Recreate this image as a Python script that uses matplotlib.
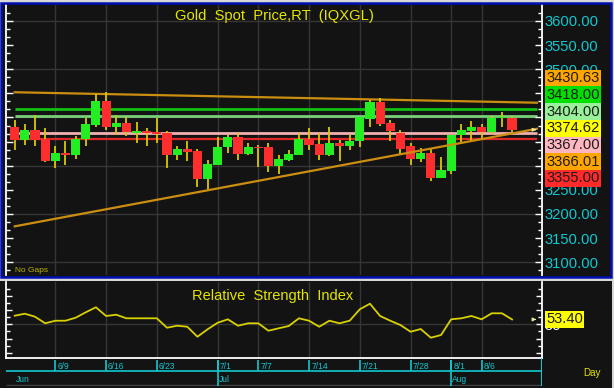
import matplotlib
matplotlib.use('Agg')
import matplotlib.pyplot as plt
from matplotlib.patches import Rectangle
from matplotlib.ticker import MultipleLocator, FixedLocator, FixedFormatter, NullFormatter
from matplotlib import font_manager

# ---------------- data ----------------
opens = [3381.3, 3353.8, 3374.5, 3355.9, 3310.4, 3327.0, 3321.4, 3355.9, 3384.9, 3434.5,
         3381.3, 3388.4, 3368.3, 3371.8, 3367.5, 3367.7, 3322.8, 3334.5, 3329.7, 3272.5,
         3302.0, 3338.0, 3359.4, 3324.9, 3339.4, 3339.4, 3300.0, 3312.5, 3322.8, 3355.9,
         3344.9, 3321.4, 3347.0, 3340.0, 3350.3, 3397.3, 3431.8, 3388.4, 3367.7, 3340.0,
         3314.5, 3326.3, 3274.6, 3289.7, 3364.2, 3372.4, 3381.3, 3369.8, 3398.0, 3398.7]
highs = [3395.2, 3386.9, 3405.5, 3378.0, 3340.0, 3351.8, 3362.0, 3398.7, 3448.3, 3452.5,
         3405.5, 3402.0, 3389.6, 3378.0, 3398.7, 3372.4, 3340.0, 3351.8, 3335.0, 3312.5,
         3359.4, 3362.8, 3367.7, 3347.0, 3343.5, 3347.0, 3321.4, 3333.1, 3367.7, 3378.0,
         3367.7, 3379.3, 3353.8, 3362.8, 3402.0, 3436.6, 3440.0, 3395.0, 3374.5, 3347.0,
         3336.6, 3335.2, 3317.3, 3364.2, 3386.3, 3391.7, 3386.9, 3404.0, 3411.0, 3404.0]
lows = [3333.1, 3343.5, 3340.0, 3306.9, 3295.0, 3302.0, 3314.5, 3340.0, 3379.3, 3374.5,
        3364.0, 3362.0, 3347.0, 3340.0, 3347.0, 3295.0, 3312.5, 3310.4, 3255.0, 3250.4,
        3302.0, 3326.3, 3312.5, 3321.4, 3296.5, 3287.0, 3282.9, 3309.0, 3322.8, 3333.0,
        3312.5, 3319.3, 3310.4, 3333.0, 3338.0, 3381.3, 3383.0, 3351.8, 3322.8, 3302.0,
        3307.7, 3267.6, 3274.6, 3282.9, 3347.0, 3351.8, 3355.9, 3365.6, 3379.3, 3369.8]
closes = [3352.4, 3374.5, 3353.8, 3310.4, 3326.3, 3322.8, 3355.3, 3387.0, 3434.5, 3381.3,
          3388.4, 3369.8, 3371.8, 3368.3, 3366.8, 3322.8, 3335.2, 3328.4, 3272.5, 3304.0,
          3338.7, 3359.4, 3324.9, 3338.7, 3336.7, 3300.0, 3314.5, 3324.9, 3355.3, 3342.0,
          3321.4, 3347.0, 3340.0, 3351.8, 3400.0, 3431.8, 3386.9, 3371.0, 3335.2, 3314.5,
          3327.0, 3274.6, 3291.8, 3364.2, 3374.5, 3381.3, 3369.8, 3398.7, 3399.5, 3374.62]
rsi = [56.0, 57.4, 55.3, 50.7, 52.5, 52.5, 54.6, 58.4, 61.9, 55.8,
       56.7, 54.2, 54.2, 54.2, 54.2, 47.6, 49.0, 48.3, 41.3, 46.5,
       51.1, 53.5, 49.0, 50.7, 50.7, 45.5, 47.2, 48.8, 54.2, 52.5,
       48.3, 52.5, 50.7, 52.5, 60.5, 64.4, 55.8, 52.5, 49.5, 44.8,
       46.7, 40.6, 42.5, 53.5, 54.2, 55.8, 53.5, 57.7, 57.7, 53.4]
rsi_last = 53.40

date_idx = [4, 9, 14, 20, 24, 29, 34, 39, 43, 46]
date_lbl = ["6/9", "6/16", "6/23", "7/1", "7/7", "7/14", "7/21", "7/28", "8/1", "8/6"]
month_idx = [0, 20, 43]
month_lbl = ["Jun", "Jul", "Aug"]

# trend lines: (x0, y0, x1, y1)
down_trend = (0.0, 3452.3, 51.45, 3430.6)
up_trend = (0.0, 3174.4, 51.45, 3376.6)
# horizontal levels
levels = [3418.00, 3404.00, 3367.00, 3355.00]
level_colors = ['#12c012', '#78d078', '#f2b0b0', '#e02828']
level_lw = [2.0, 2.0, 2.0, 1.6]

# right-side value labels
tag_vals = ["3430.63", "3418.00", "3404.00", "3374.62", "3367.00", "3366.01", "3355.00"]
tag_cols = ['#ffa500', '#00e000', '#98f098', '#ffff00', '#ffb6c1', '#ffa500', '#ff2a2a']
last_close = 3374.62

yticks_price = [3100, 3150, 3200, 3250, 3300, 3350, 3400, 3450, 3500, 3550, 3600]
# labels hidden completely behind the value tags are left blank
ytick_text = ["3100.00", "3150.00", "3200.00", "3250.00", "", "", "", "", "3500.00", "3550.00", "3600.00"]

# ---------------- fonts ----------------
names = {f.name for f in font_manager.fontManager.ttflist}
if 'Liberation Sans Narrow' in names:
    NARROW, K = 'Liberation Sans Narrow', 1.0
else:
    NARROW, K = 'Liberation Sans', 0.82
plt.rcParams['font.family'] = [NARROW, 'DejaVu Sans']

W, H = 614, 388
fig = plt.figure(figsize=(W / 100, H / 100), dpi=100)
fig.patch.set_facecolor('#d8d8d8')

def fx(px):
    return px / W

def fy(py):
    return 1 - py / H

BG = '#131313'
GRID = '#363636'
CYAN = '#10c8d0'
YEL = '#e6e600'
WICK = '#d8c800'
GREEN = '#22ee22'
RED = '#ff2e2e'
ORANGE = '#cc8e10'

# panel backgrounds
fig.add_artist(Rectangle((fx(1.5), fy(276.5)), fx(609), 273.5 / H, transform=fig.transFigure,
                         facecolor=BG, edgecolor='none', zorder=-2))
fig.add_artist(Rectangle((fx(1.5), fy(276.5)), fx(609), 273.5 / H, transform=fig.transFigure,
                         facecolor='none', edgecolor='#0010b0', lw=1.8, zorder=10))
fig.add_artist(Rectangle((0, 0), fx(612), (388 - 281) / H, transform=fig.transFigure,
                         facecolor=BG, edgecolor='none', zorder=-2))

# ---------------- price panel ----------------
ax = fig.add_axes([fx(6), fy(274.5), fx(536), (274.5 - 5) / H])
ax.set_facecolor(BG)
ax.set_xlim(-0.86, 51.95)
ax.set_ylim(3074.6, 3633.1)

for s in ['top', 'bottom']:
    ax.spines[s].set_visible(False)
for s in ['left', 'right']:
    ax.spines[s].set_color('white')
    ax.spines[s].set_linewidth(1.3)

for x in date_idx:
    ax.axvline(x, color=GRID, lw=1.0, zorder=0.5)
for y in range(3100, 3601, 100):
    ax.axhline(y, color=GRID, lw=1.0, zorder=0.5)

ax.xaxis.set_major_locator(FixedLocator([]))
ax.tick_params(axis='x', length=0, labelbottom=False)
ax.yaxis.set_major_locator(FixedLocator(yticks_price))
ax.yaxis.set_major_formatter(FixedFormatter(ytick_text))
ax.yaxis.set_minor_locator(MultipleLocator(50 / 3))
ax.tick_params(axis='y', which='both', left=True, right=True, labelleft=False, labelright=True,
               direction='in', color='white', labelcolor=CYAN, labelsize=13 * K, pad=2)
ax.tick_params(axis='y', which='major', length=5, width=1)
ax.tick_params(axis='y', which='minor', length=3, width=1)

# level lines and trend lines
for lv, c, lw in zip(levels, level_colors, level_lw):
    ax.hlines(lv, 0.0, 51.45, color=c, lw=lw, zorder=1.5)
ax.plot([down_trend[0], down_trend[2]], [down_trend[1], down_trend[3]], color=ORANGE, lw=1.6, zorder=1.6)
ax.plot([up_trend[0], up_trend[2]], [up_trend[1], up_trend[3]], color=ORANGE, lw=1.6, zorder=4)

# candles
for i, (o, h, l, c) in enumerate(zip(opens, highs, lows, closes)):
    ax.vlines(i, l, h, color=WICK, lw=1.3, zorder=2)
    col = GREEN if c >= o else RED
    hgt = max(abs(c - o), 2.5)
    ax.bar(i, hgt, bottom=min(o, c), width=0.9, color=col, edgecolor='none', zorder=3)

ax.annotate('', xy=(51.65, last_close), xytext=(50.95, last_close),
            arrowprops=dict(arrowstyle='-|>', color='#f0f0a0', lw=0.8, mutation_scale=5), zorder=6)

fig.text(fx(274), fy(20), "Gold  Spot  Price,RT  (IQXGL)", ha='center', va='baseline',
         color=YEL, fontsize=13 * K)
fig.text(fx(15), fy(272), "No Gaps", ha='left', va='baseline', color='#c0b400',
         fontsize=6, family='Liberation Sans')

# stacked value tags centred on the last close
y_last = ax.transData.transform((0, last_close))[1]
box_h = 16.7
for k, (txt, col) in enumerate(zip(tag_vals, tag_cols)):
    yc = y_last + (3 - k) * box_h + 1.5
    fig.add_artist(Rectangle((fx(545), (yc - box_h / 2) / H), fx(56), box_h / H,
                             transform=fig.transFigure, facecolor=col, edgecolor='none', zorder=5))
    fig.text(fx(573), yc / H, txt, ha='center', va='center', color='#1c1c1c',
             fontsize=13 * K, zorder=6)

# ---------------- RSI panel ----------------
ax2 = fig.add_axes([fx(6), fy(358), fx(536), (358 - 282) / H])
ax2.set_facecolor(BG)
ax2.set_xlim(-0.86, 51.95)
ax2.set_ylim(26.43, 79.58)
ax2.spines['top'].set_visible(False)
for s in ['left', 'right', 'bottom']:
    ax2.spines[s].set_color('white')
    ax2.spines[s].set_linewidth(1.3)
for x in date_idx:
    ax2.axvline(x, color=GRID, lw=1.0, zorder=0.5)
ax2.axhline(50, color=GRID, lw=1.0, zorder=0.5)
ax2.plot(range(len(rsi)), rsi, color='#d8d000', lw=1.3, zorder=3)
ax2.xaxis.set_major_locator(FixedLocator([]))
ax2.tick_params(axis='x', length=0, labelbottom=False)
ax2.yaxis.set_major_locator(FixedLocator([30, 40, 50, 60, 70]))
ax2.yaxis.set_major_formatter(FixedFormatter(['', '', '50', '', '']))
ax2.yaxis.set_minor_locator(MultipleLocator(5))
ax2.yaxis.set_minor_formatter(NullFormatter())
ax2.tick_params(axis='y', which='both', left=True, right=True, labelleft=False, labelright=True,
                direction='in', color='white', labelcolor='white', labelsize=13 * K, pad=2)
ax2.tick_params(axis='y', which='major', length=4, width=1)
ax2.tick_params(axis='y', which='minor', length=3, width=1)
ax2.annotate('', xy=(51.65, rsi_last), xytext=(50.95, rsi_last),
             arrowprops=dict(arrowstyle='-|>', color='#f0f0a0', lw=0.8, mutation_scale=5), zorder=6)

fig.text(fx(273), fy(300), "Relative  Strength  Index", ha='center', va='baseline',
         color=YEL, fontsize=12.9 * K)

y_rsi = ax2.transData.transform((0, rsi_last))[1]
fig.add_artist(Rectangle((fx(545), (y_rsi - 8.5) / H), fx(39), 17 / H,
                         transform=fig.transFigure, facecolor='#ffff00', edgecolor='none', zorder=5))
fig.text(fx(564.5), y_rsi / H, f"{rsi_last:.2f}", ha='center', va='center', color='#1c1c1c',
         fontsize=13 * K, zorder=6)

# ---------------- date axis ----------------
ax3 = fig.add_axes([fx(6), fy(386), fx(536), 28 / H])
ax3.set_facecolor(BG)
ax3.set_xlim(-0.86, 51.95)
ax3.set_ylim(386, 358)
ax3.axis('off')
ax3.hlines(371, -0.86, 51.95, color=CYAN, lw=1.2)
ax3.hlines(385, -0.86, 51.95, color='#444444', lw=1.0)
ax3.vlines(51.95, 358, 386, color=CYAN, lw=1.5)
for x, t in zip(date_idx, date_lbl):
    ax3.vlines(x, 360, 371, color=CYAN, lw=1.2)
    ax3.text(x + 0.2, 366.5, t, ha='left', va='center', color=CYAN, fontsize=7.5 * K)
for x, t in zip(month_idx, month_lbl):
    if x > 0:
        ax3.vlines(x, 360, 386, color=CYAN, lw=1.2)
    ax3.text(x + 0.1, 379.5, t, ha='left', va='center', color=CYAN, fontsize=7.5 * K)

fig.text(fx(583), fy(373), "Day", ha='left', va='center', color=YEL, fontsize=8.7 * K)

fig.savefig('out.png', dpi=100, facecolor=fig.get_facecolor())
